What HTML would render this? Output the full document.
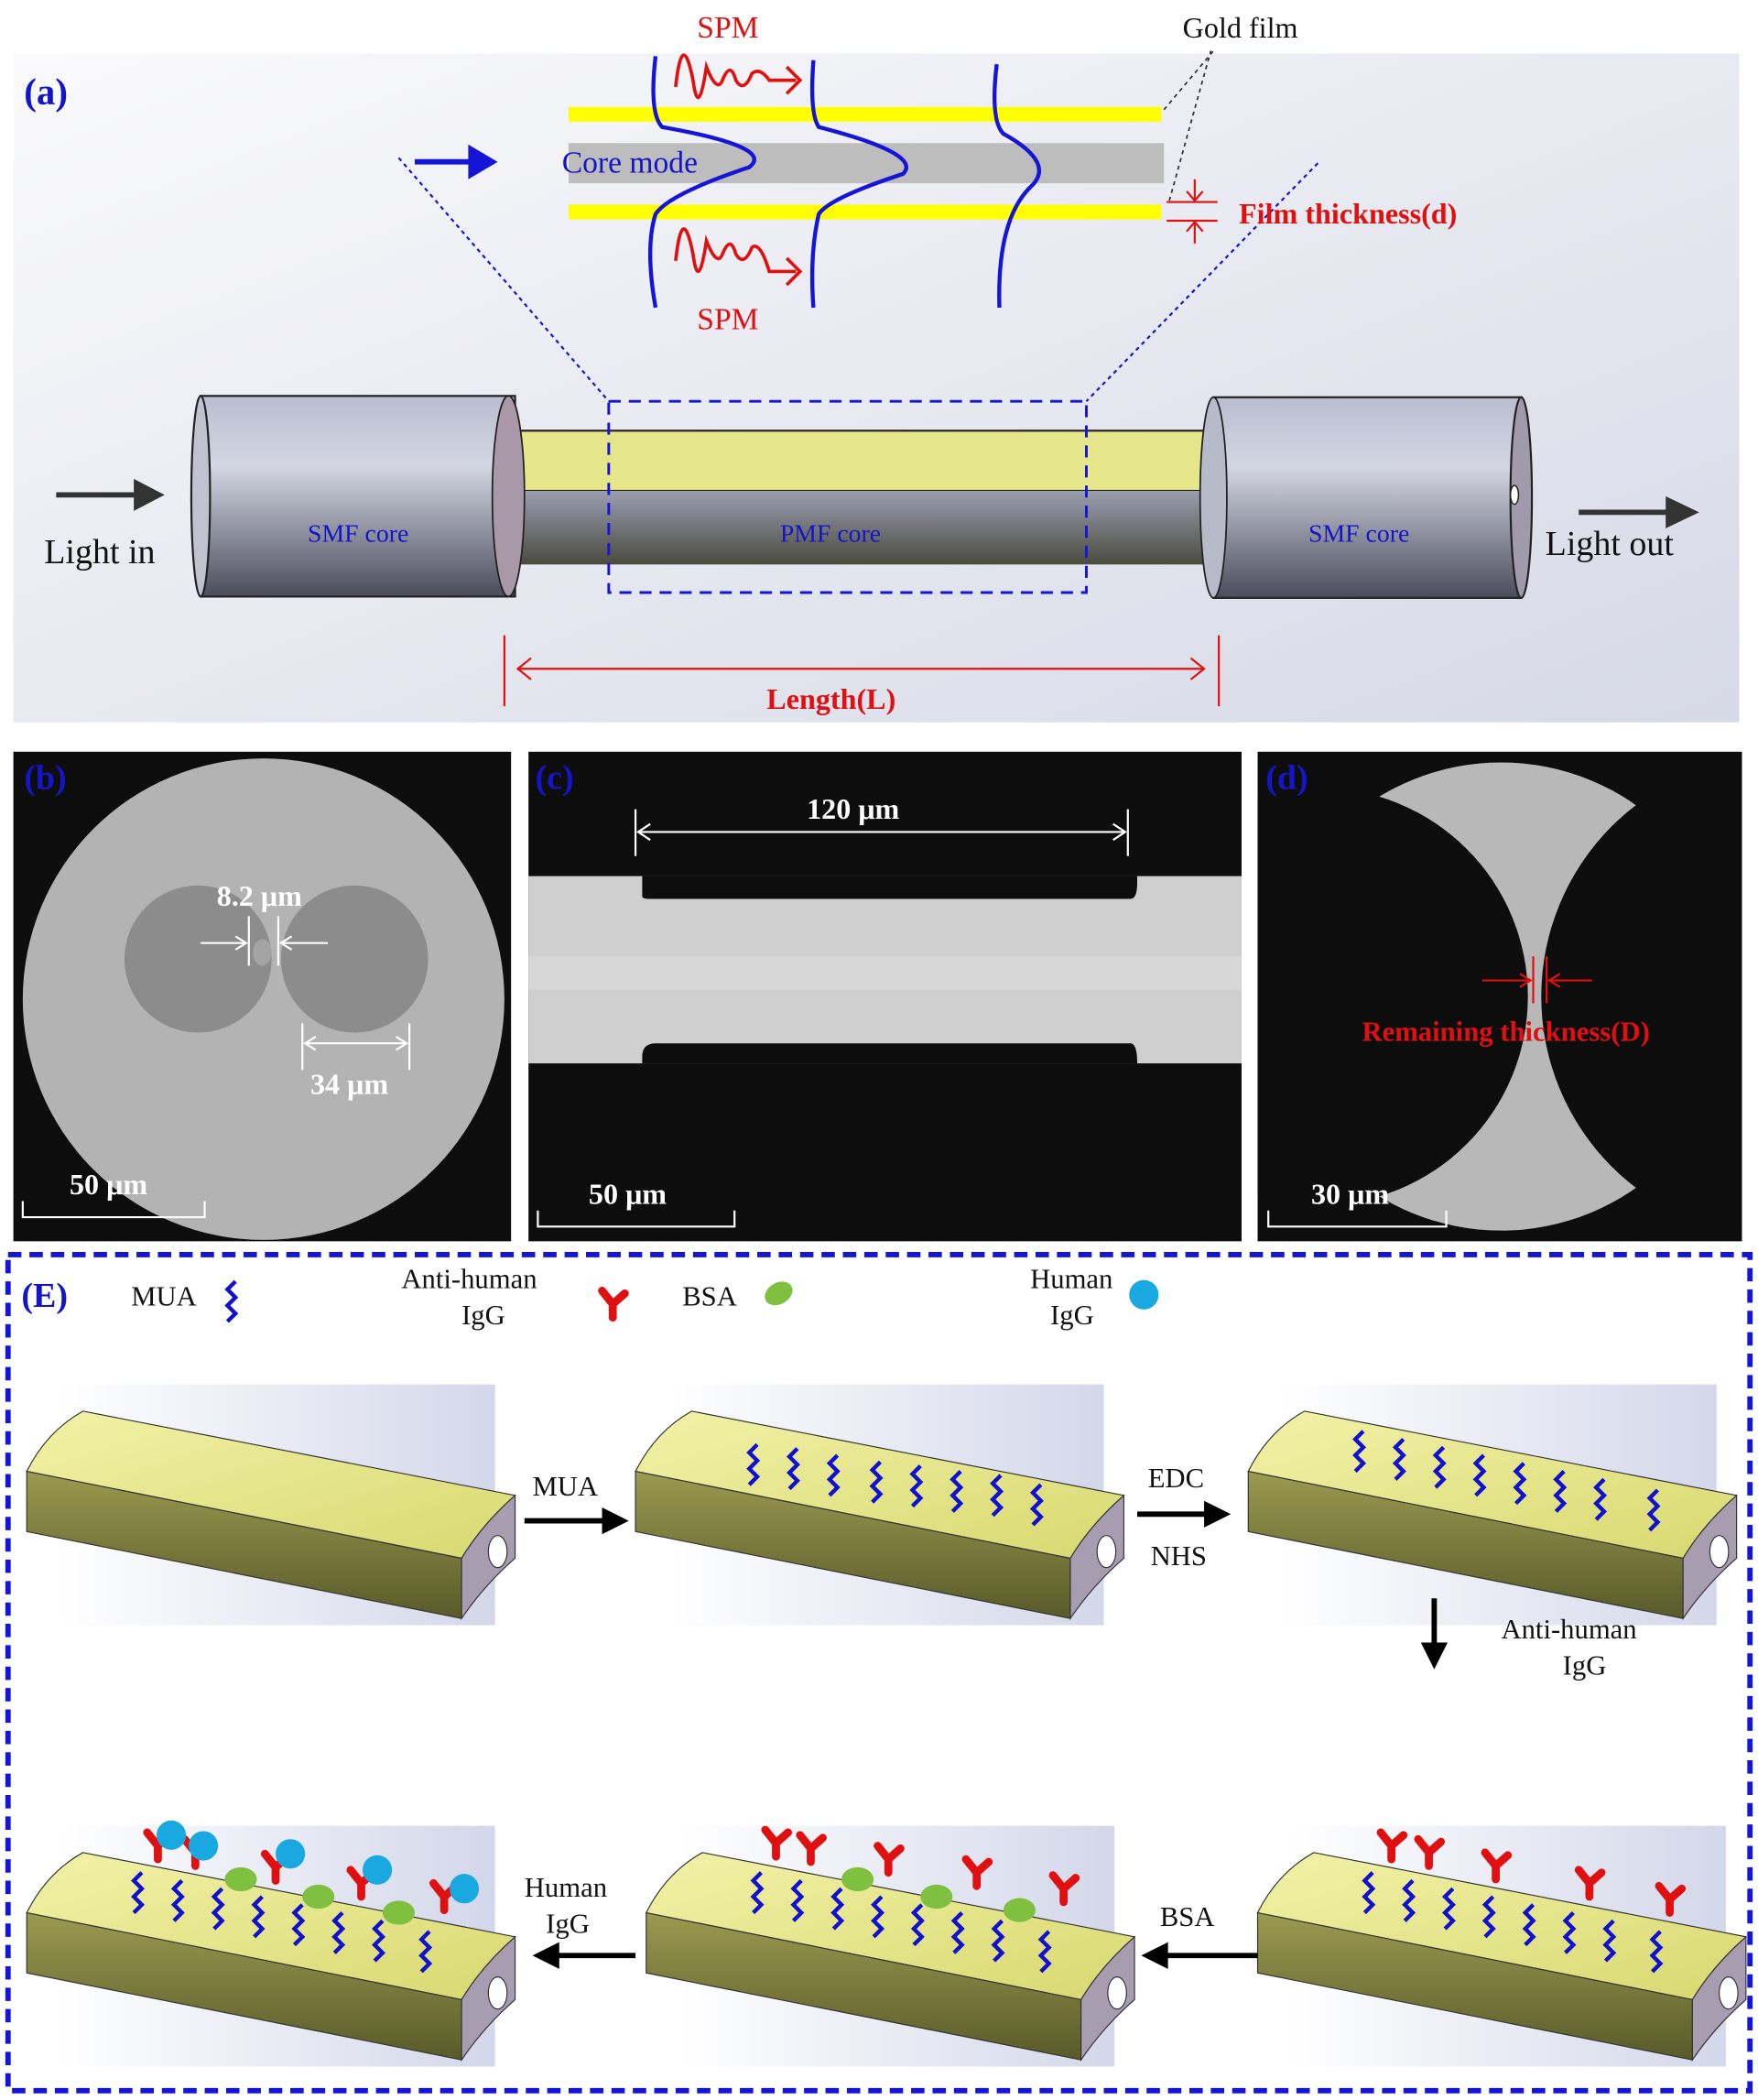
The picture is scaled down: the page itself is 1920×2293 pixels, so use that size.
<!DOCTYPE html>
<html><head><meta charset="utf-8"><style>html,body{margin:0;padding:0;background:#fff}svg{display:block}</style></head><body>
<svg width="1920" height="2293" viewBox="0 0 1314 1570" preserveAspectRatio="none" xmlns="http://www.w3.org/2000/svg" font-family="'Liberation Serif', serif">
<defs>
<linearGradient id="bgA" x1="0" y1="0" x2="1" y2="1"><stop offset="0" stop-color="#fafafc"/><stop offset="1" stop-color="#d6d9e6"/></linearGradient>
<linearGradient id="cyl" x1="0" y1="0" x2="0" y2="1"><stop offset="0" stop-color="#b9bdd0"/><stop offset="0.35" stop-color="#d3d6e2"/><stop offset="1" stop-color="#4a4c5c"/></linearGradient>
<linearGradient id="mid" x1="0" y1="0" x2="0" y2="1"><stop offset="0" stop-color="#9a9eb0"/><stop offset="1" stop-color="#4a4b3e"/></linearGradient>
<linearGradient id="bgE" x1="0" y1="0" x2="1" y2="0"><stop offset="0" stop-color="#fff"/><stop offset="1" stop-color="#c8cde4"/></linearGradient>
<linearGradient id="front" x1="0" y1="0" x2="0" y2="1"><stop offset="0" stop-color="#9a9a50"/><stop offset="1" stop-color="#5a5a2a"/></linearGradient>
<linearGradient id="top" x1="0" y1="0" x2="1" y2="1"><stop offset="0" stop-color="#f2f2a8"/><stop offset="1" stop-color="#d8d870"/></linearGradient>
<g id="slab">
<polygon points="45,1035 370,1035 370,1215 45,1215" fill="url(#bgE)" opacity="0.8"/>
<path d="M20,1100 Q35,1070 62,1055 L385,1118 Q360,1140 345,1165 Z" fill="url(#top)" stroke="#333" stroke-width="0.8"/>
<path d="M20,1100 L345,1165 L345,1210 L20,1145 Z" fill="url(#front)" stroke="#333" stroke-width="0.8"/>
<path d="M345,1165 Q360,1140 385,1118 L385,1165 Q362,1185 345,1210 Z" fill="#a89cb0" stroke="#333" stroke-width="0.8"/>
<ellipse cx="372" cy="1160" rx="7" ry="12" fill="#fff" stroke="#333" stroke-width="0.8"/>
</g>
<path id="mua" d="M0,0 l6,-6 l-6,-6 l6,-6 l-6,-6 l6,-6" fill="none" stroke="#1010d0" stroke-width="3"/>
<g id="ab"><path d="M0,0 L0,-10 M0,-10 L-8,-20 M0,-10 L9,-18" stroke="#e01010" stroke-width="6" fill="none" stroke-linecap="round"/></g>
</defs>
<rect x="10" y="40" width="1290" height="500" fill="url(#bgA)"/>
<text x="18" y="78" font-size="28" font-weight="bold" fill="#1515c8">(a)</text>
<line x1="298" y1="118" x2="455" y2="300" stroke="#1515c8" stroke-width="1.5" stroke-dasharray="3,3"/>
<line x1="985" y1="122" x2="812" y2="300" stroke="#1515c8" stroke-width="1.5" stroke-dasharray="3,3"/>
<rect x="425" y="80" width="443" height="11" fill="#ffff00"/>
<rect x="425" y="107" width="445" height="30" fill="#bdbdbd"/>
<rect x="425" y="153" width="443" height="11" fill="#ffff00"/>
<line x1="310" y1="121" x2="355" y2="121" stroke="#1515d8" stroke-width="4"/>
<polygon points="350,108 372,121 350,134" fill="#1515d8"/>
<text x="420" y="129" font-size="23" fill="#1515c8">Core mode</text>
<path d="M490,42 Q485,85 495,95 Q580,110 560,125 Q500,145 490,160 Q482,185 490,230" fill="none" stroke="#1515d8" stroke-width="3"/>
<path d="M608,45 Q605,85 612,95 Q690,115 675,130 Q620,148 612,160 Q605,190 608,230" fill="none" stroke="#1515d8" stroke-width="3"/>
<path d="M745,48 Q740,90 750,100 Q790,122 770,140 Q745,165 747,230" fill="none" stroke="#1515d8" stroke-width="3"/>
<path d="M505,65 Q510,20 518,60 Q522,90 528,50 Q536,70 540,60 Q546,45 550,60 Q556,70 562,55 Q568,50 575,60 L595,60" fill="none" stroke="#e01010" stroke-width="2.5"/>
<path d="M588,50 L598,60 L588,70" fill="none" stroke="#e01010" stroke-width="2.5"/>
<path d="M505,195 Q510,150 518,190 Q522,220 528,180 Q536,200 540,190 Q546,175 550,190 Q556,200 562,185 Q568,180 575,203 L595,203" fill="none" stroke="#e01010" stroke-width="2.5"/>
<path d="M588,193 L598,203 L588,213" fill="none" stroke="#e01010" stroke-width="2.5"/>
<text x="521" y="28" font-size="23" fill="#e01010">SPM</text>
<text x="521" y="246" font-size="23" fill="#e01010">SPM</text>
<text x="884" y="28" font-size="22" fill="#111">Gold film</text>
<line x1="870" y1="82" x2="907" y2="38" stroke="#333" stroke-width="1.2" stroke-dasharray="3,3"/>
<line x1="874" y1="150" x2="905" y2="38" stroke="#333" stroke-width="1.2" stroke-dasharray="3,3"/>
<line x1="872" y1="151" x2="910" y2="151" stroke="#e01010" stroke-width="1.5"/>
<line x1="872" y1="165" x2="910" y2="165" stroke="#e01010" stroke-width="1.5"/>
<path d="M893,134 L893,150 M887,143 L893,150 L899,143 M893,182 L893,166 M887,173 L893,166 L899,173" stroke="#e01010" stroke-width="1.5" fill="none"/>
<text x="926" y="167" font-size="22" font-weight="bold" fill="#e01010">Film thickness(d)</text>
<rect x="380" y="322" width="530" height="45" fill="#e6e68a" stroke="#222" stroke-width="1.5"/>
<rect x="370" y="367" width="540" height="55" fill="url(#mid)"/>
<rect x="150" y="296" width="235" height="150" fill="url(#cyl)" stroke="#222" stroke-width="1.5"/>
<ellipse cx="150" cy="371" rx="7" ry="75" fill="#c0c2d0" stroke="#222" stroke-width="1.5"/>
<ellipse cx="380" cy="371" rx="12" ry="75" fill="#a898a8" stroke="#222" stroke-width="1.2"/>
<rect x="907" y="297" width="230" height="150" fill="url(#cyl)" stroke="#222" stroke-width="1.5"/>
<ellipse cx="907" cy="372" rx="10" ry="75" fill="#b7bac8" stroke="#222" stroke-width="1.2"/>
<ellipse cx="1137" cy="372" rx="8" ry="75" fill="#a09aaa" stroke="#222" stroke-width="1.5"/>
<ellipse cx="1132" cy="370" rx="3" ry="7" fill="#fff" stroke="#222"/>
<rect x="455" y="300" width="357" height="143" fill="none" stroke="#1515d8" stroke-width="2" stroke-dasharray="9,6"/>
<text x="230" y="405" font-size="19" fill="#1515c8">SMF core</text>
<text x="583" y="405" font-size="19" fill="#1515c8">PMF core</text>
<text x="978" y="405" font-size="19" fill="#1515c8">SMF core</text>
<line x1="42" y1="370" x2="110" y2="370" stroke="#333" stroke-width="4"/><polygon points="100,358 123,370 100,382" fill="#333"/>
<text x="33" y="421" font-size="26" fill="#111">Light in</text>
<line x1="1180" y1="383" x2="1250" y2="383" stroke="#333" stroke-width="4"/><polygon points="1245,371 1270,383 1245,395" fill="#333"/>
<text x="1155" y="415" font-size="26" fill="#111">Light out</text>
<line x1="377" y1="475" x2="377" y2="528" stroke="#e01010" stroke-width="1.5"/>
<line x1="911" y1="475" x2="911" y2="528" stroke="#e01010" stroke-width="1.5"/>
<line x1="387" y1="500" x2="900" y2="500" stroke="#e01010" stroke-width="1.5"/>
<path d="M397,492 L387,500 L397,508 M890,492 L900,500 L890,508" stroke="#e01010" stroke-width="1.5" fill="none"/>
<text x="573" y="530" font-size="22" font-weight="bold" fill="#e01010">Length(L)</text>
<rect x="10" y="562" width="372" height="366" fill="#0d0d0d"/>
<circle cx="197" cy="747" r="180" fill="#b3b3b3"/>
<circle cx="148" cy="717" r="55" fill="#8c8c8c"/><circle cx="265" cy="717" r="55" fill="#8c8c8c"/>
<ellipse cx="196" cy="712" rx="7" ry="10" fill="#a4a4a4"/>
<text x="18" y="590" font-size="26" font-weight="bold" fill="#1515c8">(b)</text>
<g stroke="#fff" stroke-width="1.5" fill="none"><line x1="186" y1="685" x2="186" y2="722"/><line x1="208" y1="685" x2="208" y2="722"/><path d="M150,705 L184,705 M176,700 L184,705 L176,710 M245,705 L210,705 M218,700 L210,705 L218,710"/>
<line x1="226" y1="765" x2="226" y2="800"/><line x1="306" y1="765" x2="306" y2="800"/><path d="M228,780 L304,780 M236,775 L228,780 L236,785 M296,775 L304,780 L296,785"/>
<path d="M17,898 L17,910 L153,910 L153,898"/></g>
<text x="162" y="677" font-size="22" font-weight="bold" fill="#fff">8.2 μm</text>
<text x="232" y="818" font-size="22" font-weight="bold" fill="#fff">34 μm</text>
<text x="52" y="893" font-size="22" font-weight="bold" fill="#fff">50 μm</text>
<rect x="395" y="562" width="533" height="366" fill="#0d0d0d"/>
<rect x="395" y="655" width="533" height="140" fill="#cfcfcf"/>
<path d="M480,655 L480,670 Q480,672 485,672 L845,672 Q850,672 850,660 L850,655 Z" fill="#0d0d0d"/>
<path d="M480,795 L480,790 Q480,780 490,780 L845,780 Q850,780 850,795 Z" fill="#0d0d0d"/>
<rect x="395" y="715" width="533" height="25" fill="#dcdcdc" opacity="0.6"/>
<text x="400" y="590" font-size="26" font-weight="bold" fill="#1515c8">(c)</text>
<g stroke="#fff" stroke-width="1.5" fill="none"><line x1="475" y1="605" x2="475" y2="640"/><line x1="843" y1="605" x2="843" y2="640"/><path d="M477,622 L841,622 M486,616 L477,622 L486,628 M832,616 L841,622 L832,628"/><path d="M402,905 L402,917 L549,917 L549,905"/></g>
<text x="603" y="612" font-size="22" font-weight="bold" fill="#fff">120 μm</text>
<text x="440" y="900" font-size="22" font-weight="bold" fill="#fff">50 μm</text>
<rect x="940" y="562" width="362" height="366" fill="#0d0d0d"/>
<clipPath id="cd"><rect x="940" y="562" width="362" height="366"/></clipPath>
<g clip-path="url(#cd)">
<circle cx="1122" cy="745" r="175" fill="#b8b8b8"/>
<circle cx="986" cy="745" r="156" fill="#0d0d0d"/><circle cx="1332" cy="745" r="180" fill="#0d0d0d"/>
</g>
<text x="946" y="590" font-size="26" font-weight="bold" fill="#1515c8">(d)</text>
<g stroke="#e01010" stroke-width="1.5" fill="none"><line x1="1146" y1="715" x2="1146" y2="750"/><line x1="1156" y1="715" x2="1156" y2="750"/><path d="M1108,733 L1144,733 M1136,728 L1144,733 L1136,738 M1190,733 L1158,733 M1166,728 L1158,733 L1166,738"/></g>
<text x="1018" y="778" font-size="21" font-weight="bold" fill="#e01010">Remaining thickness(D)</text>
<path d="M948,905 L948,917 L1081,917 L1081,905" stroke="#fff" stroke-width="1.5" fill="none"/>
<text x="980" y="900" font-size="22" font-weight="bold" fill="#fff">30 μm</text>
<rect x="6" y="938" width="1302" height="625" fill="none" stroke="#1515d8" stroke-width="4" stroke-dasharray="10,6"/>
<text x="16" y="977" font-size="26" font-weight="bold" fill="#1515c8">(E)</text>
<text x="98" y="976" font-size="21" fill="#111">MUA</text>
<use href="#mua" transform="translate(170,988)"/>
<text x="300" y="963" font-size="21" fill="#111">Anti-human</text>
<text x="345" y="990" font-size="21" fill="#111">IgG</text>
<use href="#ab" transform="translate(458,985)"/>
<text x="510" y="976" font-size="21" fill="#111">BSA</text>
<ellipse cx="582" cy="967" rx="11" ry="8" fill="#80c040" transform="rotate(-30 582 967)"/>
<text x="770" y="963" font-size="21" fill="#111">Human</text>
<text x="785" y="990" font-size="21" fill="#111">IgG</text>
<circle cx="855" cy="968" r="11" fill="#1aa8e0"/>
<use href="#slab"/>
<use href="#slab" transform="translate(455,0)"/>
<use href="#slab" transform="translate(913,0)"/>
<use href="#slab" transform="translate(0,330)"/>
<use href="#slab" transform="translate(463,330)"/>
<use href="#slab" transform="translate(920,330)"/>
<g>
<use href="#mua" transform="translate(560,1110)"/><use href="#mua" transform="translate(590,1113)"/><use href="#mua" transform="translate(620,1118)"/><use href="#mua" transform="translate(652,1123)"/><use href="#mua" transform="translate(682,1126)"/><use href="#mua" transform="translate(712,1130)"/><use href="#mua" transform="translate(742,1133)"/><use href="#mua" transform="translate(772,1140)"/>
</g>
<g>
<use href="#mua" transform="translate(1013,1100)"/><use href="#mua" transform="translate(1043,1106)"/><use href="#mua" transform="translate(1073,1112)"/><use href="#mua" transform="translate(1103,1118)"/><use href="#mua" transform="translate(1133,1124)"/><use href="#mua" transform="translate(1163,1130)"/><use href="#mua" transform="translate(1193,1136)"/><use href="#mua" transform="translate(1233,1144)"/>
</g>
<g id="r2">
<use href="#mua" transform="translate(1020,1430)"/><use href="#mua" transform="translate(1050,1436)"/><use href="#mua" transform="translate(1080,1442)"/><use href="#mua" transform="translate(1110,1448)"/><use href="#mua" transform="translate(1140,1454)"/><use href="#mua" transform="translate(1170,1460)"/><use href="#mua" transform="translate(1200,1466)"/><use href="#mua" transform="translate(1235,1474)"/>
</g>
<use href="#r2" transform="translate(-457,0)"/>
<use href="#r2" transform="translate(-920,0)"/>
<g>
<use href="#ab" transform="translate(1040,1390)"/><use href="#ab" transform="translate(1068,1395)"/><use href="#ab" transform="translate(1118,1405)"/><use href="#ab" transform="translate(1188,1418)"/><use href="#ab" transform="translate(1248,1430)"/>
<use href="#ab" transform="translate(580,1388)"/><use href="#ab" transform="translate(606,1392)"/><use href="#ab" transform="translate(664,1400)"/><use href="#ab" transform="translate(730,1410)"/><use href="#ab" transform="translate(795,1422)"/>
<ellipse cx="641" cy="1405" rx="12" ry="9" fill="#80c040"/><ellipse cx="700" cy="1418" rx="12" ry="9" fill="#80c040"/><ellipse cx="762" cy="1428" rx="12" ry="9" fill="#80c040"/>
<use href="#ab" transform="translate(118,1390)"/><use href="#ab" transform="translate(146,1395)"/><use href="#ab" transform="translate(206,1406)"/><use href="#ab" transform="translate(270,1418)"/><use href="#ab" transform="translate(332,1428)"/>
<ellipse cx="180" cy="1405" rx="12" ry="9" fill="#80c040"/><ellipse cx="238" cy="1418" rx="12" ry="9" fill="#80c040"/><ellipse cx="298" cy="1430" rx="12" ry="9" fill="#80c040"/>
<circle cx="128" cy="1372" r="11" fill="#1aa8e0"/><circle cx="152" cy="1380" r="11" fill="#1aa8e0"/><circle cx="217" cy="1386" r="11" fill="#1aa8e0"/><circle cx="282" cy="1398" r="11" fill="#1aa8e0"/><circle cx="347" cy="1412" r="11" fill="#1aa8e0"/>
</g>
<g fill="#000">
<line x1="392" y1="1137" x2="455" y2="1137" stroke="#000" stroke-width="4"/><polygon points="450,1127 470,1137 450,1147"/>
<line x1="850" y1="1132" x2="905" y2="1132" stroke="#000" stroke-width="4"/><polygon points="900,1122 920,1132 900,1142"/>
<line x1="1072" y1="1195" x2="1072" y2="1232" stroke="#000" stroke-width="4"/><polygon points="1062,1228 1072,1248 1082,1228"/>
<line x1="940" y1="1462" x2="870" y2="1462" stroke="#000" stroke-width="4"/><polygon points="873,1452 853,1462 873,1472"/>
<line x1="475" y1="1462" x2="415" y2="1462" stroke="#000" stroke-width="4"/><polygon points="418,1452 398,1462 418,1472"/>
</g>
<text x="398" y="1118" font-size="21" fill="#111">MUA</text>
<text x="858" y="1112" font-size="21" fill="#111">EDC</text>
<text x="860" y="1170" font-size="21" fill="#111">NHS</text>
<text x="1122" y="1225" font-size="21" fill="#111">Anti-human</text>
<text x="1168" y="1252" font-size="21" fill="#111">IgG</text>
<text x="867" y="1440" font-size="21" fill="#111">BSA</text>
<text x="392" y="1418" font-size="21" fill="#111">Human</text>
<text x="408" y="1445" font-size="21" fill="#111">IgG</text>
</svg>
</body></html>
